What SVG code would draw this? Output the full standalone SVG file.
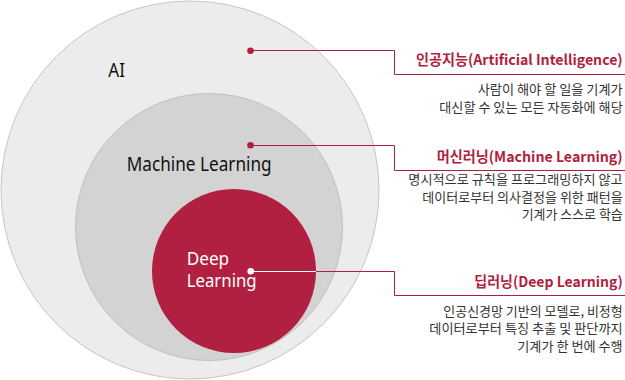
<svg xmlns="http://www.w3.org/2000/svg" width="625" height="380" viewBox="0 0 625 380">
<style>
.lbl{font-family:"Noto Sans","Noto Sans CJK KR",sans-serif;font-size:20px;fill:#111}
.lblw{font-family:"Noto Sans","Noto Sans CJK KR",sans-serif;font-size:18px;fill:#fff}
.ttl{font-family:"Noto Sans CJK KR","Noto Sans",sans-serif;font-size:14.3px;font-weight:bold;fill:#b01e40}
.dsc{font-family:"Noto Sans CJK KR",sans-serif;font-size:13px;fill:#333}
.ln{fill:none;stroke:#b01e40;stroke-width:1}
</style>
<rect width="625" height="380" fill="#fff"/>
<g id="ai">
<circle cx="190" cy="190" r="189" fill="#ececec" stroke="#c6c6c6" stroke-width="1"/>
<text class="lbl" x="108.3" y="77.3" textLength="16.7" lengthAdjust="spacingAndGlyphs">AI</text>
</g>
<g id="ml">
<circle cx="209" cy="227" r="133.5" fill="#d3d3d3" stroke="#c0c0c0" stroke-width="1"/>
<text class="lbl" x="126.7" y="171" textLength="145" lengthAdjust="spacingAndGlyphs">Machine Learning</text>
</g>
<g id="dl">
<circle cx="234" cy="271" r="82" fill="#b11f41"/>
<text class="lblw" x="186.7" y="265" textLength="42.5" lengthAdjust="spacingAndGlyphs">Deep</text>
<text class="lblw" x="186.7" y="287.3" textLength="70" lengthAdjust="spacingAndGlyphs">Learning</text>
</g>
<g id="connectors">
<path class="ln" d="M250.5 50.5H394.5V74.5H625"/>
<path class="ln" d="M250.5 145.5H394.5V170.5H625"/>
<path class="ln" d="M316 271.5H394.5V295.5H625"/>
<path d="M250.5 271.5H316" stroke="#fff" stroke-width="1" fill="none"/>
<circle cx="250.5" cy="50.7" r="3.3" fill="#b01e40"/>
<circle cx="250.5" cy="145.3" r="3.3" fill="#b01e40"/>
<circle cx="250.7" cy="271.3" r="3.3" fill="#fff"/>
</g>
<g id="ai-desc">
<text class="ttl" x="416" y="65" textLength="206.7" lengthAdjust="spacingAndGlyphs">인공지능(Artificial Intelligence)</text>
<text class="dsc" x="477.7" y="94" textLength="145" lengthAdjust="spacingAndGlyphs">사람이 해야 할 일을 기계가</text>
<text class="dsc" x="439.3" y="111.7" textLength="183.4" lengthAdjust="spacingAndGlyphs">대신할 수 있는 모든 자동화에 해당</text>
</g>
<g id="ml-desc">
<text class="ttl" x="436.7" y="161.7" textLength="186" lengthAdjust="spacingAndGlyphs">머신러닝(Machine Learning)</text>
<text class="dsc" x="408.3" y="184" textLength="214.4" lengthAdjust="spacingAndGlyphs">명시적으로 규칙을 프로그래밍하지 않고</text>
<text class="dsc" x="422.3" y="201.7" textLength="200.4" lengthAdjust="spacingAndGlyphs">데이터로부터 의사결정을 위한 패턴을</text>
<text class="dsc" x="521.7" y="219" textLength="101" lengthAdjust="spacingAndGlyphs">기계가 스스로 학습</text>
</g>
<g id="dl-desc">
<text class="ttl" x="474.3" y="287.3" textLength="148.4" lengthAdjust="spacingAndGlyphs">딥러닝(Deep Learning)</text>
<text class="dsc" x="443.3" y="315.7" textLength="179.4" lengthAdjust="spacingAndGlyphs">인공신경망 기반의 모델로, 비정형</text>
<text class="dsc" x="429.3" y="333" textLength="193.4" lengthAdjust="spacingAndGlyphs">데이터로부터 특징 추출 및 판단까지</text>
<text class="dsc" x="517.3" y="350.7" textLength="105.4" lengthAdjust="spacingAndGlyphs">기계가 한 번에 수행</text>
</g>
</svg>
